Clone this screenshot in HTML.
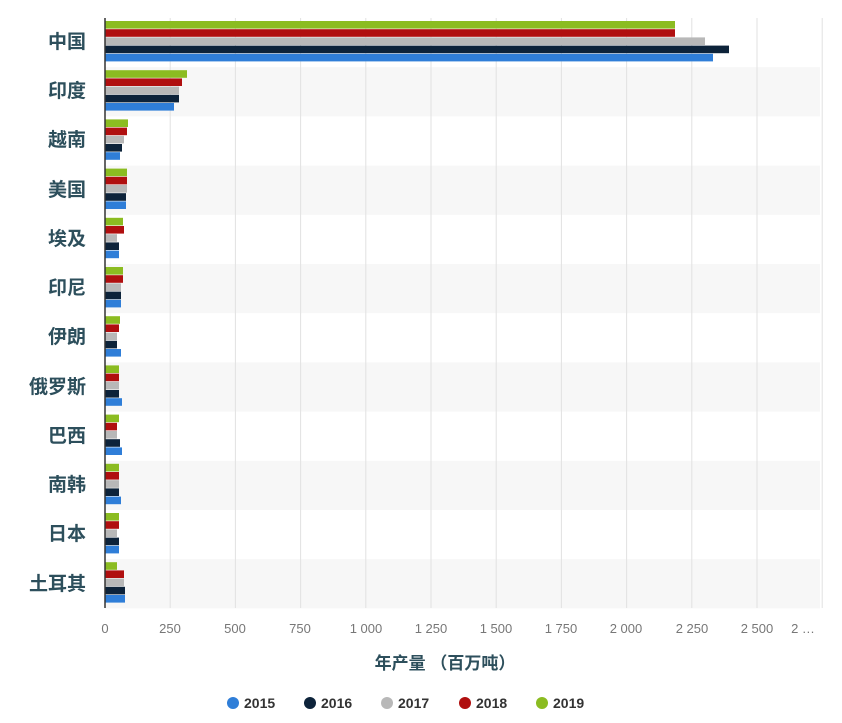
<!DOCTYPE html>
<html><head><meta charset="utf-8"><style>
html,body{margin:0;padding:0;background:#fff;}
svg{display:block;}
.cat{font-family:"Liberation Sans","Noto Sans CJK SC",sans-serif;font-size:19px;fill:#2d4f5c;text-anchor:end;font-weight:bold;}
.tk{font-family:"Liberation Sans",sans-serif;font-size:13px;fill:#777;text-anchor:middle;}
.ttl{font-family:"Liberation Sans","Noto Sans CJK SC",sans-serif;font-size:17px;fill:#2d4f5c;text-anchor:middle;font-weight:bold;}
.lg{font-family:"Liberation Sans",sans-serif;font-size:14px;fill:#333;font-weight:bold;}
</style></head><body>
<svg id="s" width="842" height="723" viewBox="0 0 842 723">
<g id="bg"></g>
<g id="grid"></g>
<g id="bars"></g>
<line x1="105" y1="18" x2="105" y2="608" stroke="#333" stroke-width="1.5"/>
<text class="cat" x="86" y="48">中国</text>
<text class="cat" x="86" y="97">印度</text>
<text class="cat" x="86" y="146">越南</text>
<text class="cat" x="86" y="196">美国</text>
<text class="cat" x="86" y="245">埃及</text>
<text class="cat" x="86" y="294">印尼</text>
<text class="cat" x="86" y="343">伊朗</text>
<text class="cat" x="86" y="393">俄罗斯</text>
<text class="cat" x="86" y="442">巴西</text>
<text class="cat" x="86" y="491">南韩</text>
<text class="cat" x="86" y="540">日本</text>
<text class="cat" x="86" y="590">土耳其</text>
<text class="tk" x="105" y="633">0</text>
<text class="tk" x="170" y="633">250</text>
<text class="tk" x="235" y="633">500</text>
<text class="tk" x="300" y="633">750</text>
<text class="tk" x="366" y="633">1 000</text>
<text class="tk" x="431" y="633">1 250</text>
<text class="tk" x="496" y="633">1 500</text>
<text class="tk" x="561" y="633">1 750</text>
<text class="tk" x="626" y="633">2 000</text>
<text class="tk" x="692" y="633">2 250</text>
<text class="tk" x="757" y="633">2 500</text>
<text class="tk" x="803" y="633">2 …</text>
<text class="ttl" x="445" y="669">年产量 （百万吨）</text>
<circle cx="233" cy="703" r="6" fill="#2f7ed8"/><text class="lg" x="244" y="708">2015</text>
<circle cx="310" cy="703" r="6" fill="#0d233a"/><text class="lg" x="321" y="708">2016</text>
<circle cx="387" cy="703" r="6" fill="#b8b8b8"/><text class="lg" x="398" y="708">2017</text>
<circle cx="465" cy="703" r="6" fill="#b00f0f"/><text class="lg" x="476" y="708">2018</text>
<circle cx="542" cy="703" r="6" fill="#8bbc21"/><text class="lg" x="553" y="708">2019</text>
</svg>
<script>
var ns="http://www.w3.org/2000/svg";
function r(g,x,y,w,h,f){var e=document.createElementNS(ns,"rect");e.setAttribute("x",x);e.setAttribute("y",y);e.setAttribute("width",w);e.setAttribute("height",h);e.setAttribute("fill",f);document.getElementById(g).appendChild(e);}
var rh=49.2,top0=18;
for(var i=0;i<12;i++){if(i%2==1)r("bg",105,top0+i*rh,715,rh,"#f7f7f7");}
for(var k=1;k<=11;k++){r("grid",105+k*65.2-0.5,18,1,590,"#e2e2e2");}
var cols=["#8bbc21","#b00f0f","#b8b8b8","#0d233a","#2f7ed8"];
var d=[[675,675,705,729,713],[187,182,179,179,174],[128,127,124,122,120],[127,127,127,126,126],[123,124,117,119,119],[123,123,121,121,121],[120,119,117,117,121],[119,119,119,119,122],[119,117,117,120,122],[119,119,119,119,121],[119,119,117,119,119],[117,124,124,125,125]];
for(var i=0;i<12;i++){for(var j=0;j<5;j++){r("bars",105,top0+i*rh+3+j*8.2,d[i][j]-105,7.6,cols[j]);}}
</script>
</body></html>
